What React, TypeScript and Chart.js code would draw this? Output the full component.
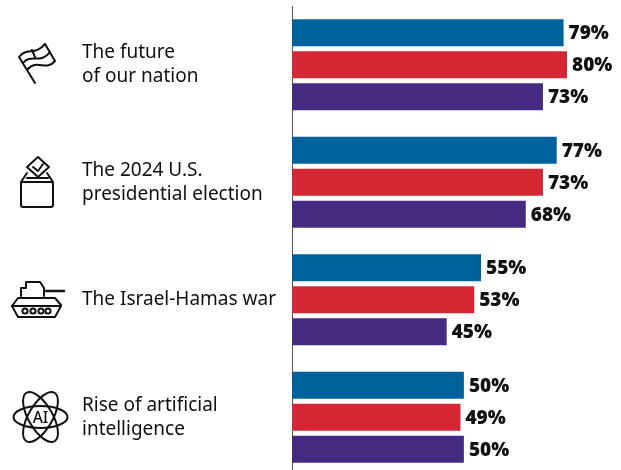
import React, { useEffect, useRef } from "react";
import { Chart, registerables } from "chart.js";

Chart.register(...registerables);

const categories = [
  ["The future", "of our nation"],
  ["The 2024 U.S.", "presidential election"],
  ["The Israel-Hamas war"],
  ["Rise of artificial", "intelligence"],
];
const seriesBlue = [79, 77, 55, 50];
const seriesRed = [80, 73, 53, 49];
const seriesPurple = [73, 68, 45, 50];

const valueLabels = {
  id: "valueLabels",
  afterDatasetsDraw(chart: any) {
    const { ctx } = chart;
    ctx.save();
    ctx.font = "900 19px 'Noto Sans'";
    ctx.fillStyle = "#111111";
    ctx.textAlign = "left";
    ctx.textBaseline = "middle";
    chart.data.datasets.forEach((ds: any, i: number) => {
      chart.getDatasetMeta(i).data.forEach((bar: any, j: number) => {
        ctx.fillText(ds.data[j] + "%", bar.x + 5, bar.y + 1);
      });
    });
    ctx.restore();
  },
};

function Icons() {
  const s = { fill: "none", stroke: "#111", strokeWidth: 2, strokeLinecap: "round", strokeLinejoin: "round" } as any;
  return (
    <svg width={621} height={470} style={{ position: "absolute", left: 0, top: 0, pointerEvents: "none" }}>
      <g {...s}>
        <path d="M35 83 L19 57 C27 47 35 56 45 44 L55 61 C46 72 37 58 27 70" />
        <path d="M23 63 C31 53 40 65 50 52" />
        <path d="M32 50 L35 57" />
      </g>
      <g {...s}>
        <rect x={21} y={182} width={32} height={25} rx={2} />
        <path d="M21 182 L27 173 M53 182 L47 173 M27 178 L48 178" />
        <path d="M27 167 L38 157 L49 167 L38 177 Z" fill="#fff" />
        <path d="M33 167 L38 171 L43 164" />
      </g>
      <g {...s}>
        <path d="M21 296 L21 288 L26 288 L26 282 L40 282 L44 288 L44 296" />
        <path d="M44 291 L64 291" strokeWidth={2.4} />
        <path d="M12 306 L18 298 L55 298 L61 305" />
        <path d="M12 306 L61 306 L55 317 L18 317 Z" />
        <circle cx={25} cy={311} r={2.6} />
        <circle cx={33} cy={311} r={2.6} />
        <circle cx={41} cy={311} r={2.6} />
        <circle cx={48} cy={311} r={2.6} />
      </g>
      <g {...s}>
        <ellipse cx={40.5} cy={417} rx={27} ry={11} />
        <ellipse cx={40.5} cy={417} rx={28} ry={12} transform="rotate(60 40.5 417)" />
        <ellipse cx={40.5} cy={417} rx={28} ry={12} transform="rotate(-60 40.5 417)" />
      </g>
      <text x={40.5} y={423} textAnchor="middle" fontFamily="'Noto Sans'" fontWeight={500} fontSize={15.5} fill="#111">AI</text>
    </svg>
  );
}

export default function App() {
  const ref = useRef<HTMLCanvasElement>(null);
  useEffect(() => {
    const chart = new Chart(ref.current!, {
      type: "bar",
      data: {
        labels: categories as any,
        datasets: [
          { data: seriesBlue, backgroundColor: "#00629b" },
          { data: seriesRed, backgroundColor: "#d42733" },
          { data: seriesPurple, backgroundColor: "#452a82" },
        ],
      },
      options: {
        indexAxis: "y",
        animation: false,
        responsive: false,
        layout: { padding: { left: 82, top: 6, right: 0, bottom: 0 } },
        plugins: { legend: { display: false }, tooltip: { enabled: false } },
        datasets: { bar: { categoryPercentage: 0.816, barPercentage: 0.844 } },
        scales: {
          x: { display: false, min: 0, max: 95.7 },
          y: {
            afterFit(scale: any) {
              scale.width = 210;
              scale.paddingTop = 0;
              scale.paddingBottom = 0;
            },
            grid: { display: false, drawTicks: false },
            border: { display: true, color: "#555555", width: 1 },
            ticks: {
              crossAlign: "far",
              padding: 0,
              autoSkip: false,
              color: "#111111",
              font: { family: "'Noto Sans'", size: 19, lineHeight: 1.25 },
            },
          },
        },
      } as any,
      plugins: [valueLabels],
    });
    return () => chart.destroy();
  }, []);
  return (
    <div style={{ position: "fixed", left: 0, top: 0, width: 621, height: 470, overflow: "hidden", background: "#fff" }}>
      <canvas ref={ref} width={621} height={476} style={{ display: "block" }} />
      <Icons />
    </div>
  );
}
